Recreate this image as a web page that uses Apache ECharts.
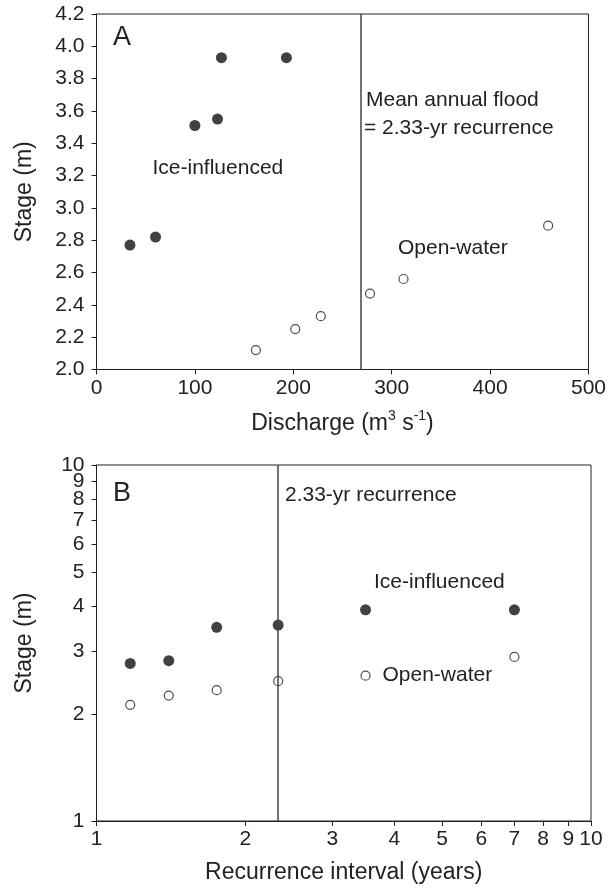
<!DOCTYPE html>
<html>
<head>
<meta charset="utf-8">
<script src="https://cdn.jsdelivr.net/npm/echarts@6/dist/echarts.min.js"></script>
<style>html,body{margin:0;padding:0;background:#fff;}#c{width:609px;height:889px;}</style>
</head>
<body>
<div id="c"></div>
<script>
// Panel A: stage vs discharge
const iceDischarge = [34, 60, 100, 123, 127, 193];
const iceStageA = [2.77, 2.82, 3.51, 3.55, 3.93, 3.93];
const openDischarge = [162, 202, 228, 278, 312, 459];
const openStageA = [2.12, 2.25, 2.33, 2.47, 2.56, 2.89];
const meanAnnualFloodDischarge = 269;
// Panel B: stage vs recurrence interval
const iceRecurrence = [1.17, 1.4, 1.75, 2.33, 3.5, 7];
const iceStageB = [2.77, 2.82, 3.50, 3.55, 3.92, 3.92];
const openRecurrence = [1.17, 1.4, 1.75, 2.33, 3.5, 7];
const openStageB = [2.12, 2.25, 2.33, 2.47, 2.56, 2.89];
const recurrenceLine = 2.33;
// Axis ticks (log axes). Stage labels split over two overlaid axes so the
// closely spaced 7..10 labels are all kept.
const logTicks = [1, 2, 3, 4, 5, 6, 7, 8, 9, 10];
const stageLabelsMain = [1, 2, 3, 4, 5, 6, 8, 10];
const stageLabelsExtra = [7, 9];

const FONT = 'Liberation Sans';
const TXT = '#222';
const zip = (a, b) => a.map((v, i) => [v, b[i]]);

const chart = echarts.init(document.getElementById('c'), null, {renderer: 'canvas'});

const GRID_LEFT = 96.5, GRID_RIGHT = 18, W = 609;
const tickStyle = {show: true, inside: false, length: 5, lineStyle: {color: '#222', width: 1}};
const lineStyle = {show: true, lineStyle: {color: '#222', width: 1}};
const lblStyle = {color: TXT, fontSize: 21, fontFamily: FONT, hideOverlap: false};
const nameStyle = {color: TXT, fontSize: 23, fontFamily: FONT};

const filled = {symbol: 'circle', symbolSize: 11, itemStyle: {color: '#111', borderColor: '#111', borderWidth: 0}};
const open = {symbol: 'circle', symbolSize: 9, itemStyle: {color: '#fff', borderColor: '#222', borderWidth: 1.2}};

const vline = (x) => ({
  silent: true, symbol: 'none', label: {show: false},
  lineStyle: {color: '#444', width: 1.5, type: 'solid'},
  data: [{xAxis: x}]
});

chart.setOption({
  animation: false,
  backgroundColor: '#fff',
  grid: [
    {left: GRID_LEFT, top: 14, right: GRID_RIGHT, height: 355.5, show: true, borderColor: '#222', borderWidth: 1, backgroundColor: 'transparent'},
    {left: GRID_LEFT, top: 465, right: GRID_RIGHT, height: 356, show: true, borderColor: '#222', borderWidth: 1, backgroundColor: 'transparent'}
  ],
  xAxis: [
    {gridIndex: 0, type: 'value', min: 0, max: 500, interval: 100,
     axisLine: lineStyle, axisTick: tickStyle, splitLine: {show: false},
     axisLabel: Object.assign({margin: 8}, lblStyle),
     name: '{a|Discharge (m}{s|3}{a| s}{s|-1}{a|)}', nameLocation: 'middle', nameGap: 40,
     nameTextStyle: {rich: {a: {fontSize: 23, fontFamily: FONT, color: TXT, lineHeight: 26, verticalAlign: 'bottom'},
                            s: {fontSize: 14, fontFamily: FONT, color: TXT, lineHeight: 26, verticalAlign: 'top'}}}},
    {gridIndex: 1, type: 'log', logBase: 10, min: 1, max: 10,
     axisLine: lineStyle,
     axisTick: Object.assign({customValues: logTicks}, tickStyle),
     splitLine: {show: false}, minorTick: {show: false},
     axisLabel: Object.assign({margin: 8, interval: 0, customValues: logTicks, showMinLabel: true, showMaxLabel: true}, lblStyle),
     name: 'Recurrence interval (years)', nameLocation: 'middle', nameGap: 40, nameTextStyle: nameStyle}
  ],
  yAxis: [
    {gridIndex: 0, type: 'value', min: 2.0, max: 4.2, interval: 0.2,
     axisLine: lineStyle, axisTick: tickStyle, splitLine: {show: false},
     axisLabel: Object.assign({margin: 12, formatter: v => v.toFixed(1)}, lblStyle),
     name: 'Stage (m)', nameLocation: 'middle', nameGap: 60, nameTextStyle: nameStyle},
    {gridIndex: 1, type: 'log', logBase: 10, min: 1, max: 10,
     axisLine: lineStyle,
     axisTick: Object.assign({customValues: logTicks}, tickStyle),
     splitLine: {show: false}, minorTick: {show: false},
     axisLabel: Object.assign({margin: 12, interval: 0, customValues: stageLabelsMain, showMinLabel: true, showMaxLabel: true}, lblStyle),
     name: 'Stage (m)', nameLocation: 'middle', nameGap: 60, nameTextStyle: nameStyle},
    // overlay axis on the same left edge carrying the remaining labels
    {gridIndex: 1, type: 'log', logBase: 10, min: 1, max: 10, position: 'right', offset: -(W - GRID_LEFT - GRID_RIGHT),
     axisLine: {show: false}, axisTick: {show: false}, splitLine: {show: false}, minorTick: {show: false},
     axisLabel: Object.assign({margin: 12, inside: true, customValues: stageLabelsExtra, showMinLabel: true, showMaxLabel: true}, lblStyle)}
  ],
  series: [
    Object.assign({type: 'scatter', name: 'Ice-influenced A', xAxisIndex: 0, yAxisIndex: 0, data: zip(iceDischarge, iceStageA), z: 3}, filled),
    Object.assign({type: 'scatter', name: 'Open-water A', xAxisIndex: 0, yAxisIndex: 0, data: zip(openDischarge, openStageA), z: 3,
      markLine: vline(meanAnnualFloodDischarge)}, open),
    Object.assign({type: 'scatter', name: 'Ice-influenced B', xAxisIndex: 1, yAxisIndex: 1, data: zip(iceRecurrence, iceStageB), z: 3}, filled),
    Object.assign({type: 'scatter', name: 'Open-water B', xAxisIndex: 1, yAxisIndex: 1, data: zip(openRecurrence, openStageB), z: 3,
      markLine: vline(recurrenceLine)}, open)
  ],
  graphic: [
    {type: 'text', x: 113, y: 38, style: {text: 'A', fontSize: 27, fontFamily: FONT, fill: TXT, verticalAlign: 'middle'}},
    {type: 'text', x: 152.5, y: 168, style: {text: 'Ice-influenced', fontSize: 21, fontFamily: FONT, fill: TXT, verticalAlign: 'middle'}},
    {type: 'text', x: 366, y: 100, style: {text: 'Mean annual flood', fontSize: 21, fontFamily: FONT, fill: TXT, verticalAlign: 'middle'}},
    {type: 'text', x: 364, y: 128, style: {text: '= 2.33-yr recurrence', fontSize: 21, fontFamily: FONT, fill: TXT, verticalAlign: 'middle'}},
    {type: 'text', x: 398, y: 248, style: {text: 'Open-water', fontSize: 21, fontFamily: FONT, fill: TXT, verticalAlign: 'middle'}},
    {type: 'text', x: 113, y: 494, style: {text: 'B', fontSize: 27, fontFamily: FONT, fill: TXT, verticalAlign: 'middle'}},
    {type: 'text', x: 285, y: 495, style: {text: '2.33-yr recurrence', fontSize: 21, fontFamily: FONT, fill: TXT, verticalAlign: 'middle'}},
    {type: 'text', x: 374, y: 582, style: {text: 'Ice-influenced', fontSize: 21, fontFamily: FONT, fill: TXT, verticalAlign: 'middle'}},
    {type: 'text', x: 382.5, y: 675, style: {text: 'Open-water', fontSize: 21, fontFamily: FONT, fill: TXT, verticalAlign: 'middle'}}
  ]
});
</script>
</body>
</html>
